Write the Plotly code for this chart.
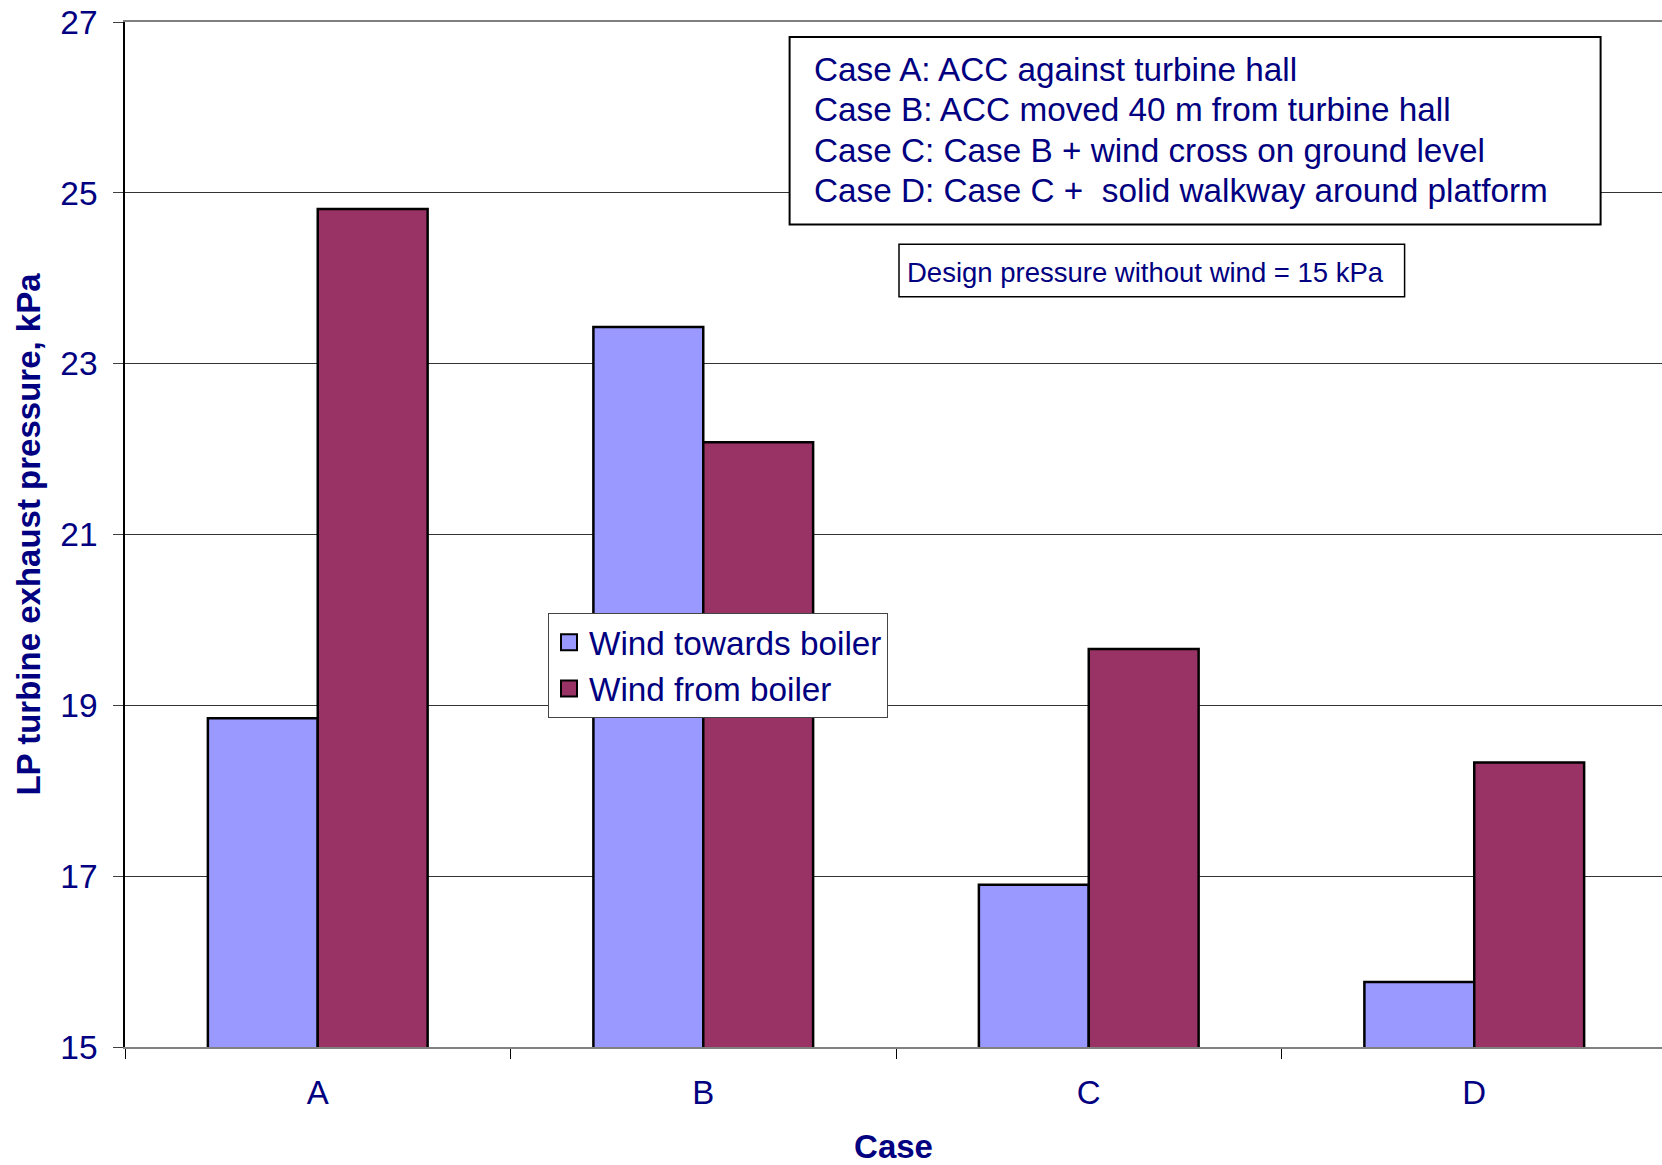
import plotly.graph_objects as go

# Data
cases = ["A", "B", "C", "D"]
wind_towards = [18.85, 23.43, 16.90, 15.76]
wind_from = [24.81, 22.08, 19.66, 18.33]
series_names = ["Wind towards boiler", "Wind from boiler"]
series_colors = ["#9999FF", "#993366"]
case_notes = [
    "Case A: ACC against turbine hall",
    "Case B: ACC moved 40 m from turbine hall",
    "Case C: Case B + wind cross on ground level",
    "Case D: Case C +&nbsp; solid walkway around platform",
]
design_note = "Design pressure without wind = 15 kPa"

W, H = 1662, 1165
ML, MR, MT, MB = 125, 0, 22, 118
NAVY = "#000080"
FONT = "Liberation Sans, Arial, sans-serif"


def px(x):
    return (x - ML) / (W - ML - MR)


def py(y):
    return (H - MB - y) / (H - MT - MB)


fig = go.Figure()
for name, vals, col in zip(series_names, [wind_towards, wind_from], series_colors):
    fig.add_trace(go.Bar(x=cases, y=vals, name=name, legendgroup=name,
                         showlegend=False,
                         marker=dict(color=col, line=dict(color="black", width=2.5))))
# legend entries with larger square swatches
for name, col in zip(series_names, series_colors):
    fig.add_trace(go.Scatter(x=[None], y=[None], mode="markers", name=name,
                             legendgroup=name,
                             marker=dict(symbol="square", size=16, color=col,
                                         line=dict(color="black", width=2))))

shapes = [
    dict(type="rect", xref="paper", yref="paper",
         x0=px(789.6), x1=px(1600.6), y0=py(224.5), y1=py(37),
         fillcolor="white", line=dict(color="black", width=2), layer="above"),
    dict(type="rect", xref="paper", yref="paper",
         x0=px(899), x1=px(1404.6), y0=py(296.7), y1=py(244.3),
         fillcolor="white", line=dict(color="black", width=1.5), layer="above"),
]

annotations = []
for i, note in enumerate(case_notes):
    annotations.append(dict(
        text=note, xref="paper", yref="paper", x=px(812), y=py(69 + 40.6 * i),
        xanchor="left", yanchor="middle", showarrow=False,
        font=dict(family=FONT, size=33.3, color=NAVY)))
annotations.append(dict(
    text=design_note, xref="paper", yref="paper", x=px(905), y=py(272),
    xanchor="left", yanchor="middle", showarrow=False,
    font=dict(family=FONT, size=27.5, color=NAVY)))

fig.update_layout(
    width=W, height=H,
    margin=dict(l=ML, r=MR, t=MT, b=MB, pad=0),
    paper_bgcolor="white", plot_bgcolor="white",
    barmode="group", bargap=0.43, bargroupgap=0,
    font=dict(family=FONT, color=NAVY),
    shapes=shapes, annotations=annotations,
    legend=dict(
        x=px(548), y=py(613), xanchor="left", yanchor="top",
        bgcolor="white", bordercolor="#444444", borderwidth=1,
        font=dict(family=FONT, size=33.3, color=NAVY),
        tracegroupgap=0, itemwidth=30,
    ),
    xaxis=dict(
        range=[-0.5, 3.487], tickson="boundaries",
        ticks="outside", ticklen=10, tickcolor="black", tickwidth=1,
        showline=True, linecolor="#808080", linewidth=2, mirror=True,
        showgrid=False, ticklabelstandoff=15,
        tickfont=dict(family=FONT, size=33, color=NAVY),
        title=dict(text="<b>Case</b>", standoff=28,
                   font=dict(family=FONT, size=33, color=NAVY)),
    ),
    yaxis=dict(
        range=[15, 27], dtick=2, tick0=15,
        ticks="outside", ticklen=10, tickcolor="#404040", tickwidth=1,
        showline=True, linecolor="black", linewidth=1.5,
        showgrid=True, gridcolor="#333333", gridwidth=1, zeroline=False,
        ticklabelstandoff=9,
        tickfont=dict(family=FONT, size=33.5, color=NAVY),
        title=dict(text="<b>LP turbine exhaust pressure, kPa</b>", standoff=10,
                   font=dict(family=FONT, size=33, color=NAVY)),
    ),
)

fig.write_html("out.html")
